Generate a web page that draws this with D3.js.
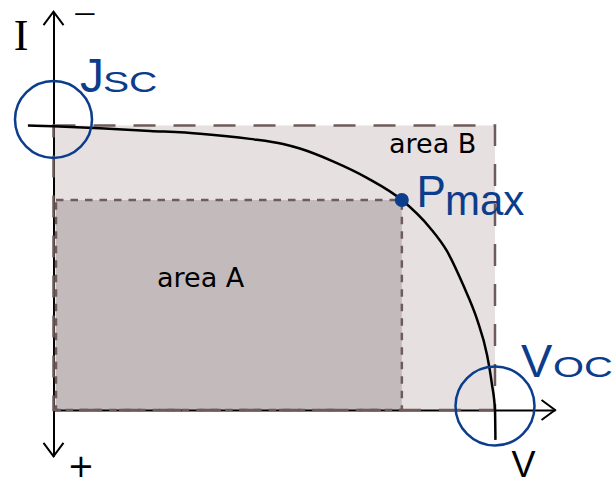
<!DOCTYPE html>
<html>
<head>
<meta charset="utf-8">
<script src="https://cdn.jsdelivr.net/npm/d3@7"></script>
<style>
  html, body { margin: 0; padding: 0; background: #fff; }
  svg { display: block; }
</style>
</head>
<body>
<svg id="chart" width="614" height="485"></svg>
<script>
// Normalised I-V curve of a solar cell (voltage / Voc, current / Jsc)
const voltage = [-0.058, 0.0, 0.105, 0.219, 0.332, 0.445, 0.520, 0.558, 0.633, 0.710, 0.789, 0.853, 0.891, 0.928, 0.959, 0.982, 0.993, 1.0, 1.001];
const current = [1.0, 0.997, 0.990, 0.981, 0.971, 0.953, 0.935, 0.919, 0.874, 0.816, 0.738, 0.640, 0.559, 0.439, 0.320, 0.193, 0.091, 0.0, -0.105];

// Characteristic points
const jsc = 1.0;
const voc = 1.0;
const vmp = 0.789;
const imp = 0.738;

// Axis extents (data units)
const vAxisMax = 1.136;
const iAxisMax = 1.4;
const iAxisMin = -0.163;

// Labels
const axisLabelI = "I";
const axisLabelV = "V";
const signTop = "\u2212";
const signBottom = "+";
const areaLabels = ["area A", "area B"];
const jscLabel = ["J", "SC"];
const vocLabel = ["V", "OC"];
const pmaxLabel = ["P", "max"];

const svg = d3.select("#chart");
const blue = "#0b3d8c";
const borderCol = "#6f5b5b";

const x = d3.scaleLinear().domain([0, 1]).range([53.5, 495]);
const y = d3.scaleLinear().domain([0, 1]).range([410, 125.5]);

// --- shaded areas (fills) ---
svg.append("rect")
  .attr("x", x(0)).attr("y", y(jsc))
  .attr("width", x(voc) - x(0)).attr("height", y(0) - y(jsc))
  .attr("fill", "#e6e0e1");

const inset = 2.5;
svg.append("rect")
  .attr("x", x(0) + inset).attr("y", y(imp))
  .attr("width", x(vmp) - x(0) - inset).attr("height", y(0) - y(imp))
  .attr("fill", "#c3bbbb");

// --- axes ---
const xAxisScale = d3.scaleLinear().domain([0, vAxisMax]).range([x(0), x(vAxisMax)]);
const yAxisScale = d3.scaleLinear().domain([iAxisMin, iAxisMax]).range([y(iAxisMin), y(iAxisMax)]);

const gx = svg.append("g").attr("transform", `translate(0,${y(0)})`)
  .call(d3.axisBottom(xAxisScale).tickValues([]).tickSizeOuter(0));
const gy = svg.append("g").attr("transform", `translate(${x(0)},0)`)
  .call(d3.axisLeft(yAxisScale).tickValues([]).tickSizeOuter(0));
[gx, gy].forEach(g => g.select(".domain").attr("stroke", "#000").attr("stroke-width", 2));

// open chevron arrowheads
const arrow = (px, py, dx, dy) => {
  const L = 13.5, W = 10;
  const nx = -dy, ny = dx;
  const p = d3.path();
  p.moveTo(px - dx * L + nx * W, py - dy * L + ny * W);
  p.lineTo(px, py);
  p.lineTo(px - dx * L - nx * W, py - dy * L - ny * W);
  svg.append("path").attr("d", p.toString())
    .attr("fill", "none").attr("stroke", "#000").attr("stroke-width", 2)
    .attr("stroke-linejoin", "miter");
};
arrow(x(vAxisMax), y(0), 1, 0);
arrow(x(0), y(iAxisMax), 0, -1);
arrow(x(0), y(iAxisMin), 0, 1);

// --- dashed borders ---
svg.append("rect")
  .attr("x", x(0)).attr("y", y(jsc))
  .attr("width", x(voc) - x(0)).attr("height", y(0) - y(jsc))
  .attr("fill", "none").attr("stroke", borderCol).attr("stroke-width", 2.5)
  .attr("stroke-dasharray", "22 18");

svg.append("rect")
  .attr("x", x(0) + inset).attr("y", y(imp))
  .attr("width", x(vmp) - x(0) - inset).attr("height", y(0) - y(imp))
  .attr("fill", "none").attr("stroke", borderCol).attr("stroke-width", 2.5)
  .attr("stroke-dasharray", "7.5 7");

// --- I-V curve ---
const pts = voltage.map((v, i) => [v, current[i]]);
svg.append("path")
  .datum(pts)
  .attr("d", d3.line().x(d => x(d[0])).y(d => y(d[1])).curve(d3.curveMonotoneX))
  .attr("fill", "none").attr("stroke", "#000").attr("stroke-width", 2.5);

// --- markers: circles at Jsc / Voc, dot at Pmax ---
svg.append("circle").attr("cx", x(0)).attr("cy", y(jsc) - 6).attr("r", 38.5)
  .attr("fill", "none").attr("stroke", blue).attr("stroke-width", 2.5);
svg.append("circle").attr("cx", x(voc)).attr("cy", y(0) - 4).attr("r", 39.5)
  .attr("fill", "none").attr("stroke", blue).attr("stroke-width", 2.5);
svg.append("circle").attr("cx", x(vmp)).attr("cy", y(imp)).attr("r", 7)
  .attr("fill", blue);

// --- text ---
const sans = "'Liberation Sans', Arial, sans-serif";
const dejavu = "'DejaVu Sans', Verdana, sans-serif";

function label(txt, tx, ty, size, opts = {}) {
  return svg.append("text")
    .attr("transform", `translate(${tx},${ty}) scale(${opts.sx || 1},1)`)
    .attr("font-family", opts.family || sans)
    .attr("font-size", size)
    .attr("fill", opts.fill || "#000")
    .attr("text-anchor", opts.anchor || "start")
    .text(txt);
}

// axis names and signs
label(axisLabelI, 21, 50, 44, { family: "'Liberation Serif', 'Times New Roman', serif", anchor: "middle" });
label(axisLabelV, 523.5, 477, 36, { anchor: "middle" });
label(signTop, 85, 21, 22, { family: dejavu, anchor: "middle", sx: 1.4 });
label(signBottom, 81, 477, 32, { family: dejavu, anchor: "middle" });

// area names
label(areaLabels[0], 157, 287, 26, { family: dejavu, sx: 1.04 });
label(areaLabels[1], 389, 153, 26, { family: dejavu, sx: 1.04 });

// Jsc
label(jscLabel[0], 80, 92, 48, { fill: blue });
label(jscLabel[1], 103, 92, 29, { fill: blue, sx: 1.35 });

// Voc
label(vocLabel[0], 521, 376.5, 47, { fill: blue });
label(vocLabel[1], 553, 376.5, 30, { fill: blue, sx: 1.33 });

// Pmax
label(pmaxLabel[0], 416.5, 206.5, 44, { fill: blue });
label(pmaxLabel[1], 445, 215, 42, { fill: blue });
</script>
</body>
</html>
